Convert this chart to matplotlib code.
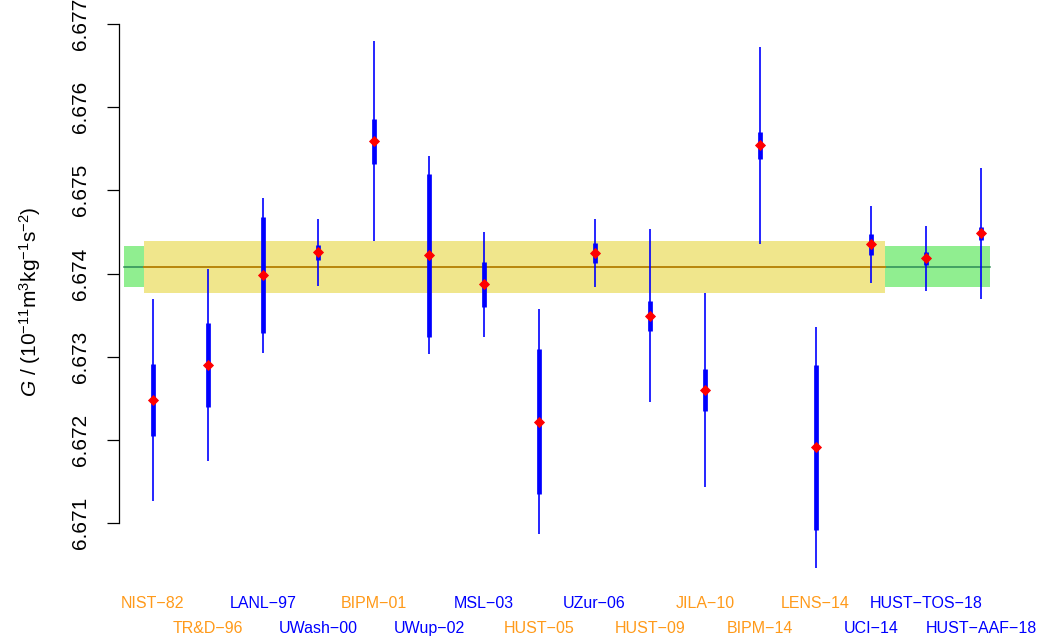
import numpy as np
import matplotlib
matplotlib.use("Agg")
import matplotlib.pyplot as plt

plt.rcParams['font.family'] = ['Liberation Sans', 'DejaVu Sans']
plt.rcParams['mathtext.fontset'] = 'custom'
plt.rcParams['mathtext.rm'] = 'Liberation Sans'
plt.rcParams['mathtext.it'] = 'Liberation Sans:italic'

# measurements of G (units of 1e-11 m^3 kg^-1 s^-2)
labels = ['NIST\u221282', 'TR&D\u221296', 'LANL\u221297', 'UWash\u221200',
          'BIPM\u221201', 'UWup\u221202', 'MSL\u221203', 'HUST\u221205',
          'UZur\u221206', 'HUST\u221209', 'JILA\u221210', 'BIPM\u221214',
          'LENS\u221214', 'UCI\u221214', 'HUST\u2212TOS\u221218', 'HUST\u2212AAF\u221218']
g_vals = [6.67248, 6.67290, 6.67398, 6.674255, 6.67559, 6.67422, 6.67387, 6.67222,
          6.67425, 6.67349, 6.67260, 6.67554, 6.67191, 6.67435, 6.674184, 6.674484]
u_std = [0.00043, 0.00050, 0.00070, 0.000092, 0.00027, 0.00098, 0.00027, 0.00087,
         0.00012, 0.00018, 0.00025, 0.00016, 0.00099, 0.00013, 0.000078, 0.000077]
u_wide = [0.00121, 0.00116, 0.00093, 0.00040, 0.00120, 0.00119, 0.00063, 0.00135,
          0.00041, 0.00104, 0.00117, 0.00118, 0.00145, 0.00046, 0.00039, 0.00079]
orange_labels = ['NIST\u221282', 'TR&D\u221296', 'BIPM\u221201', 'HUST\u221205',
                 'HUST\u221209', 'JILA\u221210', 'BIPM\u221214', 'LENS\u221214']

# recommended values shown as bands
g_ref = 6.67408
u_ref_yellow = 0.00031
u_ref_green = 0.000245

x = np.arange(1, len(g_vals) + 1)
g = np.array(g_vals)
u1 = np.array(u_std)
u2 = np.array(u_wide)

fig = plt.figure(figsize=(10.42, 6.4), dpi=100)
ax = fig.add_axes([119 / 1042, 0, 923 / 1042, 1])
ax.set_xlim(0.39, 17.10)
ax.set_ylim(6.669593, 6.677289)

# bands
ax.fill_between([0.48, 16.15], g_ref - u_ref_green, g_ref + u_ref_green,
                color='#90EE90', lw=0, zorder=1)
ax.plot([0.48, 16.15], [g_ref, g_ref], color='#2E8B57', lw=1.1, zorder=2)
ax.fill_between([0.84, 14.26], g_ref - u_ref_yellow, g_ref + u_ref_yellow,
                color='#F0E68C', lw=0, zorder=3)
ax.plot([0.84, 14.26], [g_ref, g_ref], color='#B8860B', lw=1.4, zorder=4)

# error bars and points
ax.vlines(x, g - u2, g + u2, color='blue', lw=1.2, zorder=5)
ax.vlines(x, g - u1, g + u1, color='blue', lw=3.4, zorder=6)
ax.plot(x, g, 'D', color='red', ms=5.0, mec='red', mew=0.6, zorder=7)

# axis styling
for s in ['top', 'right', 'bottom']:
    ax.spines[s].set_visible(False)
ax.spines['left'].set_bounds(6.671, 6.677)
ax.spines['left'].set_linewidth(0.9)
ax.set_xticks([])
yt = [6.671, 6.672, 6.673, 6.674, 6.675, 6.676, 6.677]
ax.set_yticks(yt)
ax.set_yticklabels(['%.3f' % v for v in yt])
ax.tick_params(axis='y', length=8.6, width=0.9, pad=12.5, labelsize=15)
for t in ax.get_yticklabels():
    t.set_rotation(90)
    t.set_va('center')

# experiment names in two staggered rows
for i, name in enumerate(labels):
    col = '#FF9A1A' if name in orange_labels else 'blue'
    yy = 0.0578 if i % 2 == 0 else 0.0172
    ax.text(x[i], yy, name, transform=ax.get_xaxis_transform(), ha='center',
            va='center', fontsize=11.5, color=col, clip_on=False)

fig.text(37 / 1042, 1 - 302 / 640,
         r'$G$ / (10$^{-11}$m$^{3}$kg$^{-1}$s$^{-2}$)',
         rotation=90, rotation_mode='anchor', ha='center', va='baseline',
         fontsize=15)

fig.savefig('out.png', dpi=100)
